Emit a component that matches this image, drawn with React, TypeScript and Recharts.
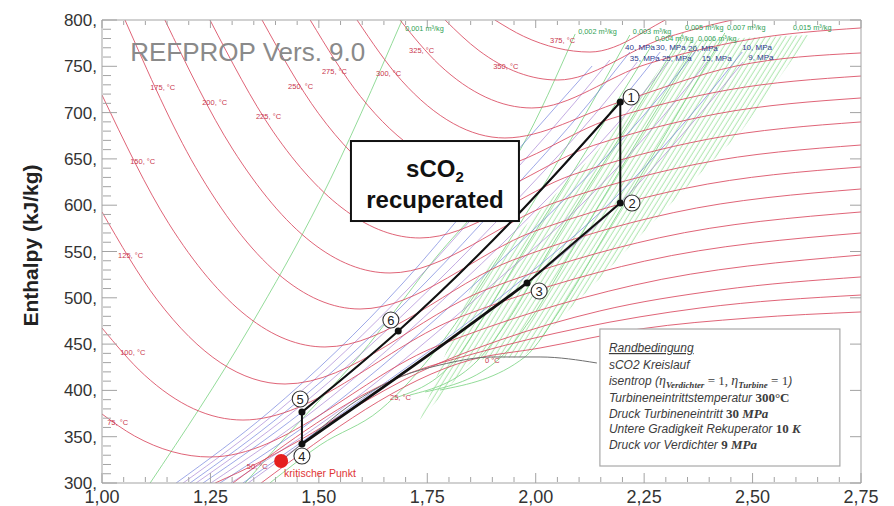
import React from "react";
import { Area, ComposedChart, Line, Scatter, XAxis, YAxis } from "recharts";

const FONT = "'Liberation Sans', Arial, sans-serif";
const SERIF = "'Liberation Serif', 'DejaVu Serif', serif";

// axis ticks: entropy s in kJ/(kg K), enthalpy h in kJ/kg
const S_DOMAIN = [1, 2.75];
const H_DOMAIN = [300, 800];
const S_TICKS = [1, 1.25, 1.5, 1.75, 2, 2.25, 2.5, 2.75];
const S_MINOR = [
  1.05, 1.1, 1.15, 1.2, 1.3, 1.35, 1.4, 1.45, 1.55, 1.6, 1.65, 1.7, 1.8, 1.85,
  1.9, 1.95, 2.05, 2.1, 2.15, 2.2, 2.3, 2.35, 2.4, 2.45, 2.55, 2.6, 2.65, 2.7,
];
const H_TICKS = [300, 350, 400, 450, 500, 550, 600, 650, 700, 750, 800];
const H_MINOR = [
  310, 320, 330, 340, 360, 370, 380, 390, 410, 420, 430, 440, 460, 470, 480,
  490, 510, 520, 530, 540, 560, 570, 580, 590, 610, 620, 630, 640, 660, 670,
  680, 690, 710, 720, 730, 740, 760, 770, 780, 790,
];

// isotherms [s, h]
const T_0 = [[1.367, 300.0], [1.849, 432.8], [2.010, 445.8], [2.240, 466.3], [2.494, 478.2], [2.750, 484.7]];
const T_25 = [[1.302, 300.0], [1.687, 414.5], [1.872, 441.5], [2.102, 467.4], [2.379, 489.0], [2.750, 503.0]];
const T_50 = [[1.261, 300.0], [1.364, 322.7], [1.457, 346.4], [1.572, 378.8], [1.733, 419.9], [1.918, 454.4], [2.148, 485.8], [2.425, 508.4], [2.750, 522.5]];
const T_75 = [[1.000, 374.5], [1.075, 350.8], [1.162, 333.8], [1.249, 328.1], [1.774, 448.1], [2.225, 513.5], [2.750, 546.2]];
const T_100 = [[1.000, 467.4], [1.098, 416.6], [1.211, 380.2], [1.325, 368.0], [1.824, 479.0], [2.251, 539.6], [2.750, 570.0]];
const T_125 = [[1.000, 592.7], [1.127, 497.9], [1.274, 429.7], [1.422, 406.9], [1.887, 509.1], [2.285, 564.8], [2.750, 592.7]];
const T_150 = [[1.000, 719.0], [1.154, 580.2], [1.334, 480.2], [1.514, 446.9], [1.947, 540.7], [2.317, 591.9], [2.750, 617.5]];
const T_175 = [[1.053, 800.0], [1.216, 640.8], [1.405, 526.2], [1.595, 487.9], [1.999, 572.2], [2.346, 618.3], [2.750, 641.3]];
const T_200 = [[1.145, 800.0], [1.301, 660.7], [1.482, 560.3], [1.664, 526.8], [2.044, 602.8], [2.370, 644.3], [2.750, 665.0]];
const T_225 = [[1.249, 800.0], [1.394, 679.9], [1.564, 593.4], [1.733, 564.6], [2.089, 633.5], [2.394, 671.0], [2.750, 689.9]];
const T_250 = [[1.369, 800.0], [1.499, 699.2], [1.651, 626.6], [1.802, 602.4], [2.134, 664.7], [2.418, 698.7], [2.750, 715.8]];
const T_275 = [[1.480, 800.0], [1.596, 717.4], [1.731, 657.9], [1.867, 638.0], [2.176, 693.8], [2.441, 724.3], [2.750, 739.5]];
const T_300 = [[1.588, 800.0], [1.690, 735.0], [1.810, 688.2], [1.929, 672.6], [2.194, 711.4], [2.462, 750.3], [2.750, 764.4]];
const T_325 = [[1.687, 800.0], [1.778, 751.5], [1.885, 716.6], [1.991, 705.0], [2.257, 752.5], [2.485, 778.4], [2.750, 791.4]];
const T_350 = [[1.791, 800.0], [1.869, 767.0], [1.960, 743.1], [2.051, 735.2], [2.296, 780.3], [2.506, 805.0], [2.750, 817.3]];
const T_375 = [[1.906, 800.0], [1.972, 782.4], [2.049, 769.7], [2.125, 765.4], [2.344, 809.4], [2.531, 832.4], [2.750, 845.4]];
const ISOTHERMS = [T_0, T_25, T_50, T_75, T_100, T_125, T_150, T_175, T_200, T_225, T_250, T_275, T_300, T_325, T_350, T_375];

// isobars [s, h]
const P_40 = [[1.203, 300.0], [1.422, 376.6], [1.745, 516.0], [1.918, 602.4], [2.125, 711.4], [2.217, 765.4]];
const P_35 = [[1.217, 300.0], [1.440, 376.6], [1.770, 516.0], [1.950, 602.4], [2.160, 711.4], [2.234, 754.6]];
const P_30 = [[1.233, 300.0], [1.461, 376.6], [1.683, 464.1], [1.938, 579.7], [2.194, 711.4], [2.287, 765.4]];
const P_25 = [[1.251, 300.0], [1.484, 376.6], [1.828, 516.0], [2.017, 602.4], [2.231, 711.4], [2.305, 754.6]];
const P_20 = [[1.272, 300.0], [1.512, 376.6], [1.862, 516.0], [2.058, 602.4], [2.275, 711.4], [2.367, 765.4]];
const P_15 = [[1.297, 300.0], [1.542, 376.6], [1.904, 516.0], [2.109, 602.4], [2.321, 711.4], [2.395, 754.6]];
const P_10 = [[1.325, 300.0], [1.558, 376.6], [1.959, 516.0], [2.171, 602.4], [2.383, 711.4], [2.476, 765.4]];
const P_9 = [[1.337, 300.0], [1.461, 342.1], [1.779, 446.9], [1.980, 516.0], [2.194, 602.4], [2.351, 683.4], [2.478, 754.6]];
const P_50 = [[1.187, 300.0], [1.403, 376.6], [1.719, 516.0], [1.885, 602.4], [2.091, 711.4], [2.171, 756.8]];
const P_60 = [[1.171, 300.0], [1.385, 376.6], [1.694, 516.0], [1.853, 602.4], [2.056, 711.4], [2.130, 750.3]];
const ISOBARS = [P_60, P_50, P_40, P_35, P_30, P_25, P_20, P_15, P_10, P_9];

// isochores [s, h]
const V_001 = [[1.111, 300.0], [1.341, 468.5], [1.503, 605.6], [1.692, 800.0]];
const V_002 = [[1.330, 300.0], [1.417, 346.4], [1.595, 438.2], [1.756, 535.4], [1.964, 659.6], [2.091, 784.9]];
const V_003 = [[1.387, 300.0], [1.503, 341.0], [1.641, 378.8], [1.779, 449.0], [1.918, 546.2], [2.067, 659.6], [2.217, 783.8]];
const V_004 = [[1.676, 391.8], [1.814, 432.8], [1.883, 481.4], [1.987, 562.4], [2.125, 665.0], [2.268, 773.0]];
const V_005 = [[1.710, 395.0], [1.867, 432.8], [1.929, 470.6], [2.045, 562.4], [2.190, 670.4], [2.340, 786.0]];
const V_006 = [[1.745, 398.3], [1.918, 435.0], [1.987, 476.0], [2.091, 557.0], [2.229, 665.0], [2.370, 773.0]];
const V_007 = [[1.779, 400.4], [1.975, 436.1], [2.056, 486.8], [2.160, 567.8], [2.298, 675.8], [2.436, 786.0]];
const ISOCHORES = [V_001, V_002, V_003, V_004, V_005, V_006, V_007];

// dense isochore band (s, lower h, upper h)
const HATCH = [
  [1.733, 368.0, 368.0],
  [1.855, 432.8, 516.0],
  [1.971, 436.1, 575.4],
  [2.144, 519.2, 659.6],
  [2.240, 566.7, 716.8],
  [2.333, 612.1, 778.4],
  [2.432, 659.6, 779.5],
  [2.471, 678.0, 780.6],
  [2.632, 783.8, 783.8],
];

// saturated vapour line
const SATURATION = [[1.413, 323.8], [1.480, 349.7], [1.572, 384.2], [1.687, 414.5], [1.779, 427.4], [1.902, 436.1], [2.010, 436.1], [2.141, 429.6]];

// recuperated sCO2 cycle
const HEATING = [[1.461, 376.6], [1.683, 464.1], [1.938, 579.7], [2.195, 711.4]];
const EXPANSION = [[2.195, 711.4], [2.195, 602.4]];
const COOL_HIGH = [[1.980, 516.0], [2.195, 602.4]];
const COOL_LOW = [[1.461, 342.1], [1.779, 446.9], [1.980, 516.0]];
const COMPRESSION = [[1.461, 342.1], [1.461, 376.6]];
const STATES = [[2.195, 711.4], [2.195, 602.4], [1.980, 516.0], [1.461, 342.1], [1.461, 376.6], [1.683, 464.1]];
const STATE_TAGS: [number, number, string][] = [
  [2.220, 716.8, "1"], [2.222, 602.4, "2"], [2.008, 507.3, "3"],
  [1.461, 329.2, "4"], [1.457, 390.7, "5"], [1.666, 476.0, "6"],
];
const CRITICAL = [[1.413, 323.8]];

const TEMP_LABELS: [number, number, string][] = [
  [1.012, 364.8, "75, °C"], [1.042, 440.4, "100, °C"], [1.037, 546.2, "125, °C"],
  [1.065, 647.7, "150, °C"], [1.111, 727.6, "175, °C"], [1.231, 710.4, "200, °C"],
  [1.355, 695.3, "225, °C"], [1.429, 728.7, "250, °C"], [1.507, 744.0, "275, °C"],
  [1.632, 741.7, "300, °C"], [1.708, 767.6, "325, °C"], [1.902, 750.3, "350, °C"],
  [2.033, 778.4, "375, °C"], [1.334, 317.3, "50, °C"], [1.664, 391.8, "25, °C"],
  [1.883, 431.8, "0 °C"],
];
const PRESSURE_LABELS: [number, number, string][] = [
  [2.206, 769.8, "40, MPa"], [2.277, 769.8, "30, MPa"], [2.351, 768.7, "20, MPa"],
  [2.476, 769.8, "10, MPa"], [2.217, 757.9, "35, MPa"], [2.291, 757.9, "25, MPa"],
  [2.383, 757.9, "15, MPa"], [2.490, 759.0, "9, MPa"],
];
const VOLUME_LABELS: [number, number, string][] = [
  [1.699, 790.3, "0,001 m³/kg"], [2.098, 788.1, "0,002 m³/kg"], [2.224, 788.1, "0,003 m³/kg"],
  [2.275, 779.5, "0,004 m³/kg"], [2.344, 791.4, "0,005 m³/kg"], [2.374, 779.5, "0,006 m³/kg"],
  [2.441, 791.4, "0,007 m³/kg"], [2.593, 791.4, "0,015 m³/kg"],
];

// anchors (top-left corners / text start)
const WATERMARK = [[1.065, 755.7]];
const TITLE_BOX = [[1.574, 669.3]];
const NOTE_BOX = [[2.148, 466.3]];

// corners of the plot frame, so the tick-only axes get a domain
const FRAME_CORNERS = [[1, 300], [2.75, 800]];

const rows = (pts: number[][]) => pts.map(([s, h]) => ({ s, h }));
const textRows = (pts: [number, number, string][]) => pts.map(([s, h, text]) => ({ s, h, text }));
const blank = () => "";

const textShape = (color: string, size: number) => (p: any) => (
  <text x={p.cx} y={p.cy} fill={color} fontSize={size} fontFamily={FONT} dominantBaseline="central">
    {p.payload.text}
  </text>
);

const StateDot = (p: any) => <circle cx={p.cx} cy={p.cy} r={3.5} fill="#111" />;

const StateTag = (p: any) => (
  <g>
    <circle cx={p.cx} cy={p.cy} r={8} fill="#fff" stroke="#333" strokeWidth={1.1} />
    <text x={p.cx} y={p.cy + 4.6} textAnchor="middle" fontSize={13} fontFamily={FONT} fill="#222">
      {p.payload.text}
    </text>
  </g>
);

const CriticalDot = (p: any) => (
  <g>
    <circle cx={p.cx} cy={p.cy} r={7} fill="#e5201f" />
    <text x={p.cx + 3} y={p.cy + 16} fontSize={10.5} fontFamily={FONT} fill="#e03535">
      kritischer Punkt
    </text>
  </g>
);

const Watermark = (p: any) => (
  <text x={p.cx} y={p.cy} fontSize={26} fontFamily={FONT} fill="#8a8a8a">
    REFPROP Vers. 9.0
  </text>
);

const TitleBox = (p: any) => (
  <g fontFamily={FONT} fontWeight="bold" fill="#111">
    <rect x={p.cx} y={p.cy} width={168} height={80} fill="#fff" stroke="#111" strokeWidth={2} />
    <text x={p.cx + 84} y={p.cy + 36} textAnchor="middle" fontSize={24}>
      sCO<tspan fontSize={15} dy={5}>2</tspan>
    </text>
    <text x={p.cx + 84} y={p.cy + 67} textAnchor="middle" fontSize={24}>
      recuperated
    </text>
  </g>
);

const NoteBox = (p: any) => {
  const x = p.cx + 9;
  const y = p.cy;
  const val = { fontFamily: SERIF, fontWeight: "bold" as const, fontStyle: "normal", fontSize: 13 };
  const unit = { fontFamily: SERIF, fontWeight: "bold" as const, fontStyle: "italic", fontSize: 13 };
  return (
    <g fontFamily={FONT} fontStyle="italic" fontSize={12} fill="#3c3c3c">
      <rect x={p.cx} y={y} width={240} height={137} fill="#fff" stroke="#a8a8a8" strokeWidth={1.2} />
      <text x={x} y={y + 23} textDecoration="underline">Randbedingung</text>
      <text x={x} y={y + 40}>sCO2 Kreislauf</text>
      <text x={x} y={y + 56}>
        isentrop (
        <tspan fontFamily={SERIF} fontSize={14}>η</tspan>
        <tspan fontFamily={SERIF} fontWeight="bold" fontSize={9} dy={3}>Verdichter</tspan>
        <tspan fontFamily={SERIF} fontStyle="normal" fontSize={13} dy={-3}> = 1, </tspan>
        <tspan fontFamily={SERIF} fontSize={14}>η</tspan>
        <tspan fontFamily={SERIF} fontWeight="bold" fontSize={9} dy={3}>Turbine</tspan>
        <tspan fontFamily={SERIF} fontStyle="normal" fontSize={13} dy={-3}> = 1</tspan>)
      </text>
      <text x={x} y={y + 73}>
        Turbineneintrittstemperatur <tspan {...val}>300°C</tspan>
      </text>
      <text x={x} y={y + 89}>
        Druck Turbineneintritt <tspan {...val}>30 </tspan><tspan {...unit}>MPa</tspan>
      </text>
      <text x={x} y={y + 104}>
        Untere Gradigkeit Rekuperator <tspan {...val}>10 </tspan><tspan {...unit}>K</tspan>
      </text>
      <text x={x} y={y + 120}>
        Druck vor Verdichter <tspan {...val}>9 </tspan><tspan {...unit}>MPa</tspan>
      </text>
    </g>
  );
};

const AxisTitle = (p: any) => {
  const vb = p.viewBox;
  const x = vb.x + 30;
  const y = vb.y + vb.height / 2 - 6;
  return (
    <text x={x} y={y} transform={`rotate(-90 ${x} ${y})`} textAnchor="middle" dominantBaseline="central"
      fontSize={21} fontWeight="bold" fontFamily={FONT} fill="#222">
      Enthalpy (kJ/kg)
    </text>
  );
};

const FRAME = "#a3a3a3";
const ISOBAR_COLORS = ["#6676da", "#a07ad2"];

export default function App() {
  const line = (key: string, pts: number[][], stroke: string, width: number, type: "monotone" | "linear" = "monotone", opacity = 1) => (
    <Line key={key} data={rows(pts)} dataKey="h" type={type} stroke={stroke} strokeWidth={width}
      strokeOpacity={opacity} dot={false} activeDot={false} isAnimationActive={false} legendType="none" />
  );
  // invisible series that bind each tick-only axis pair
  const anchor = (xId: string, yId: string) => (
    <Line key={`${xId}-${yId}`} data={rows(FRAME_CORNERS)} dataKey="h" xAxisId={xId} yAxisId={yId}
      stroke="none" dot={false} activeDot={false} isAnimationActive={false} legendType="none" />
  );
  // mirrored axes draw the inward ticks; they take no layout space
  const tickAxisX = (id: string, orientation: "top" | "bottom", ticks: number[], size: number, axisLine: boolean) => (
    <XAxis key={id} xAxisId={id} orientation={orientation} dataKey="s" type="number" domain={S_DOMAIN}
      allowDataOverflow ticks={ticks} interval={0} mirror height={1} tickSize={size} tickFormatter={blank}
      axisLine={axisLine ? { stroke: FRAME } : false} tickLine={{ stroke: FRAME }} />
  );
  const tickAxisY = (id: string, orientation: "left" | "right", ticks: number[], size: number, axisLine: boolean) => (
    <YAxis key={id} yAxisId={id} orientation={orientation} dataKey="h" type="number" domain={H_DOMAIN}
      allowDataOverflow ticks={ticks} interval={0} mirror width={1} tickSize={size} tickFormatter={blank}
      axisLine={axisLine ? { stroke: FRAME } : false} tickLine={{ stroke: FRAME }} />
  );

  return (
    <div style={{ position: "absolute", left: 0, top: 0, width: 894, height: 506, background: "#fff" }}>
      <ComposedChart width={894} height={506} margin={{ top: 20, right: 33, bottom: 0, left: 0 }}>
        <defs>
          <pattern id="hatch" width={4.3} height={10} patternUnits="userSpaceOnUse" patternTransform="rotate(32)">
            <line x1={2} y1={0} x2={2} y2={10} stroke="#93dd96" strokeWidth={0.8} />
          </pattern>
        </defs>

        <XAxis dataKey="s" type="number" domain={S_DOMAIN} allowDataOverflow ticks={S_TICKS} interval={0}
          tickFormatter={(v: number) => v.toFixed(2).replace(".", ",")} height={23} tickLine={false}
          tickSize={0} tickMargin={7} axisLine={{ stroke: FRAME }}
          tick={{ fill: "#333", fontSize: 18, fontFamily: FONT }} />
        {tickAxisX("bMaj", "bottom", S_TICKS, 10, false)}
        {tickAxisX("bMin", "bottom", S_MINOR, 5, false)}
        {tickAxisX("tMaj", "top", S_TICKS, 8, true)}
        {tickAxisX("tMin", "top", S_MINOR, 4, false)}

        <YAxis dataKey="h" type="number" domain={H_DOMAIN} allowDataOverflow ticks={H_TICKS} interval={0}
          width={102} tickLine={false} tickSize={0} tickMargin={5} tickFormatter={(v: number) => `${v},`}
          axisLine={{ stroke: FRAME }} tick={{ fill: "#333", fontSize: 17, fontFamily: FONT }}
          label={{ value: "Enthalpy (kJ/kg)", content: AxisTitle }} />
        {tickAxisY("lMaj", "left", H_TICKS, 15, false)}
        {tickAxisY("lMin", "left", H_MINOR, 8, false)}
        {tickAxisY("rMaj", "right", H_TICKS, 11, true)}

        {anchor("bMaj", "lMaj")}
        {anchor("bMin", "lMin")}
        {anchor("tMaj", "rMaj")}
        {anchor("tMin", "rMaj")}

        <Area data={HATCH.map(([s, lo, hi]) => ({ s, band: [lo, hi] }))} dataKey="band" type="linear"
          stroke="none" fill="url(#hatch)" fillOpacity={1} dot={false} activeDot={false}
          isAnimationActive={false} legendType="none" />

        {ISOCHORES.map((pts, i) => line(`v${i}`, pts, "#7fd486", 0.85))}
        {ISOBARS.map((pts, i) => line(`p${i}`, pts, ISOBAR_COLORS[i % 2], 0.75, "monotone", 0.85))}
        {ISOTHERMS.map((pts, i) => line(`t${i}`, pts, "#d9485f", 0.85))}
        {line("sat", SATURATION, "#6f6f6f", 1)}

        {line("heat", HEATING, "#111", 2.1)}
        {line("exp", EXPANSION, "#111", 2, "linear")}
        {line("coolHigh", COOL_HIGH, "#111", 2.2, "linear")}
        {line("coolLow", COOL_LOW, "#111", 2.8)}
        {line("comp", COMPRESSION, "#111", 2, "linear")}

        <Scatter data={textRows(TEMP_LABELS)} shape={textShape("#c9374e", 7.5)} isAnimationActive={false} legendType="none" />
        <Scatter data={textRows(PRESSURE_LABELS)} shape={textShape("#2e3a8e", 8)} isAnimationActive={false} legendType="none" />
        <Scatter data={textRows(VOLUME_LABELS)} shape={textShape("#2f9f55", 7.3)} isAnimationActive={false} legendType="none" />
        <Scatter data={rows(WATERMARK)} shape={Watermark} isAnimationActive={false} legendType="none" />
        <Scatter data={rows(TITLE_BOX)} shape={TitleBox} isAnimationActive={false} legendType="none" />
        <Scatter data={rows(NOTE_BOX)} shape={NoteBox} isAnimationActive={false} legendType="none" />
        <Scatter data={rows(CRITICAL)} shape={CriticalDot} isAnimationActive={false} legendType="none" />
        <Scatter data={rows(STATES)} shape={StateDot} isAnimationActive={false} legendType="none" />
        <Scatter data={textRows(STATE_TAGS)} shape={StateTag} isAnimationActive={false} legendType="none" />
      </ComposedChart>
    </div>
  );
}
